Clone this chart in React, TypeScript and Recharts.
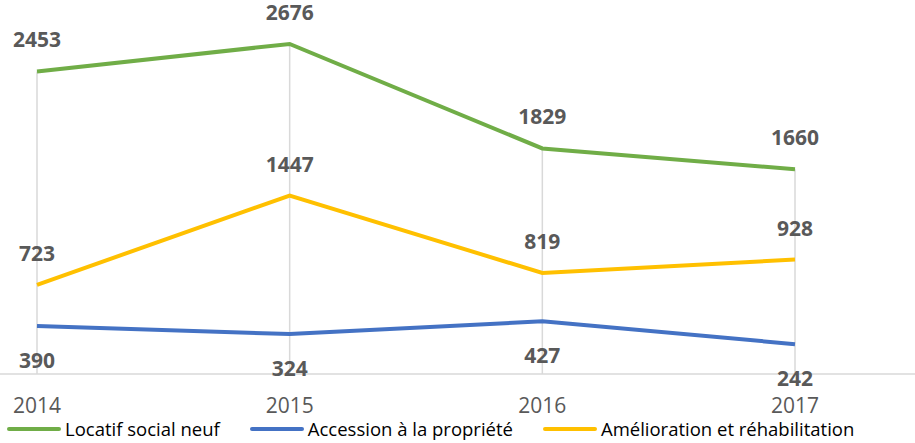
import { LineChart, Line, XAxis, YAxis, Legend, LabelList, ReferenceLine } from 'recharts';

const years = ['2014', '2015', '2016', '2017'];
const locatif = [2453, 2676, 1829, 1660];
const accession = [390, 324, 427, 242];
const amelioration = [723, 1447, 819, 928];

const series = [
  { key: 'locatif', name: 'Locatif social neuf', color: '#70AD47', labelPos: 'top' },
  { key: 'accession', name: 'Accession à la propriété', color: '#4472C4', labelPos: 'bottom' },
  { key: 'amelioration', name: 'Amélioration et réhabilitation', color: '#FFC000', labelPos: 'top' },
];

const data = years.map((year, i) => ({
  year,
  locatif: locatif[i],
  accession: accession[i],
  amelioration: amelioration[i],
}));

const FONT = '"Open Sans", sans-serif';
const TEXT = '#595959';
const GRID = '#D9D9D9';

function LegendContent() {
  return (
    <div
      style={{
        height: 29,
        background: '#fff',
        display: 'flex',
        alignItems: 'center',
        paddingLeft: 7,
        fontFamily: FONT,
        fontSize: 18.5,
        color: '#000',
      }}
    >
      {series.map((s) => (
        <div key={s.key} style={{ display: 'flex', alignItems: 'center', marginRight: 30 }}>
          <span
            style={{
              display: 'inline-block',
              width: 54,
              height: 4,
              borderRadius: 2,
              background: s.color,
              marginRight: 4,
            }}
          />
          <span style={{ whiteSpace: 'nowrap' }}>{s.name}</span>
        </div>
      ))}
    </div>
  );
}

export default function App() {
  return (
    <div style={{ position: 'absolute', left: 0, top: 0, width: 915, height: 443, background: '#fff' }}>
      <LineChart
        width={915}
        height={443}
        data={data}
        margin={{ top: 4, right: 0, bottom: 0, left: 0 }}
        style={{ fontFamily: FONT }}
      >
        <XAxis
          dataKey="year"
          padding={{ left: 37, right: 120 }}
          axisLine={{ stroke: GRID, strokeWidth: 1.5 }}
          tickLine={false}
          tickMargin={18}
          height={40}
          tick={{ fill: TEXT, fontSize: 21 }}
        />
        <YAxis hide domain={[0, 3000]} />
        {years.map((y, i) => (
          <ReferenceLine
            key={y}
            segment={[
              { x: y, y: 0 },
              { x: y, y: locatif[i] },
            ]}
            stroke={GRID}
            strokeWidth={1.5}
          />
        ))}
        <Legend verticalAlign="bottom" content={<LegendContent />} />
        {series.map((s) => (
          <Line
            key={s.key}
            dataKey={s.key}
            name={s.name}
            stroke={s.color}
            strokeWidth={4}
            dot={false}
            type="linear"
            isAnimationActive={false}
          >
            <LabelList
              dataKey={s.key}
              position={s.labelPos as 'top' | 'bottom'}
              offset={s.labelPos === 'top' ? 24 : 27}
              fill={TEXT}
              fontSize={21}
              fontWeight={700}
            />
          </Line>
        ))}
      </LineChart>
    </div>
  );
}
